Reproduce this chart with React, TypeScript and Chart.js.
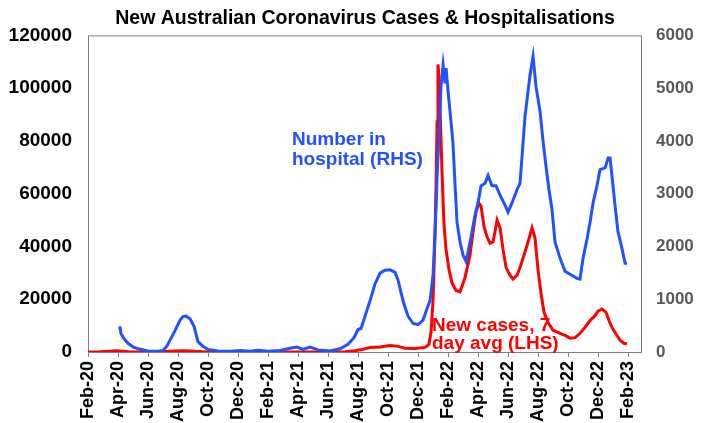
import { useEffect, useRef } from "react";
import { Chart, registerables } from "chart.js";

Chart.register(...registerables);

const titleText = "New Australian Coronavirus Cases & Hospitalisations";

const tickLabels = [
  "Feb-20", "Apr-20", "Jun-20", "Aug-20", "Oct-20", "Dec-20",
  "Feb-21", "Apr-21", "Jun-21", "Aug-21", "Oct-21", "Dec-21",
  "Feb-22", "Apr-22", "Jun-22", "Aug-22", "Oct-22", "Dec-22", "Feb-23",
];

// months since Feb-2020
const hospMonths = [
  2.07, 2.13, 2.2, 2.4, 2.67, 3.0, 3.33, 4.0, 4.67, 5.0, 5.27, 5.47, 5.8, 6.13, 6.33, 6.53, 6.8, 7.07, 7.33, 7.67,
  8.0, 8.67, 9.47, 10.2, 10.8, 11.33, 12.0, 12.8, 13.47, 13.93, 14.33, 14.8, 15.33, 16.13, 16.8, 17.33, 17.73, 18.0,
  18.2, 18.47, 18.8, 19.13, 19.47, 19.8, 20.13, 20.47, 20.67, 21.0, 21.33, 21.67, 22.0, 22.33, 22.6, 22.8, 23.0,
  23.2, 23.27, 23.4, 23.53, 23.67, 23.8, 23.87, 24.0, 24.13, 24.33, 24.47, 24.6, 24.8, 25.0, 25.2, 25.47, 25.8,
  26.0, 26.2, 26.47, 26.67, 26.93, 27.2, 27.47, 27.8, 28.0, 28.27, 28.6, 28.8, 29.13, 29.47, 29.67, 29.87, 30.13,
  30.33, 30.53, 30.73, 30.93, 31.13, 31.47, 31.8, 32.13, 32.6, 32.8, 33.0, 33.27, 33.47, 33.67, 33.93, 34.13,
  34.47, 34.67, 34.8, 34.93, 35.13, 35.33, 35.6, 35.8, 35.93,
];
const hospValues = [
  430, 485, 350, 250, 165, 95, 60, 20, 15, 30, 115, 225, 405, 600, 670, 680, 630, 485, 195, 105,
  50, 20, 15, 30, 15, 35, 15, 30, 70, 95, 50, 95, 40, 20, 60, 145, 270, 425,
  445, 680, 970, 1290, 1495, 1550, 1560, 1510, 1360, 970, 680, 540, 520, 600, 825, 970, 1455,
  2700, 3340, 4080, 5040, 5440, 5090, 5380, 4950, 4570, 3960, 3150, 2460, 2085, 1840, 1715, 2085, 2590,
  2830, 3150, 3200, 3345, 3150, 3150, 2970, 2785, 2650, 2830, 3075, 3200, 4460, 5260, 5600, 5015, 4570,
  4005, 3520, 3075, 2705, 2085, 1775, 1530, 1475, 1395, 1380, 1775, 2145, 2465, 2830, 3150, 3455,
  3490, 3675, 3675, 3335, 2785, 2280, 1960, 1680, 1680,
];

const caseMonths = [
  0, 0.8, 1.47, 1.8, 2.13, 2.67, 4.13, 5.13, 5.8, 6.47, 7.13, 8.0, 9.47, 12.0, 16.13, 17.13, 17.8, 18.27,
  18.8, 19.47, 20.13, 20.6, 21.13, 21.8, 22.47, 22.73, 22.87, 23.0, 23.13, 23.2, 23.27, 23.33, 23.4, 23.47,
  23.6, 23.73, 23.87, 24.07, 24.27, 24.53, 24.8, 25.13, 25.47, 25.67, 25.87, 26.07, 26.2, 26.4, 26.6, 26.8,
  27.0, 27.13, 27.27, 27.47, 27.67, 27.87, 28.13, 28.33, 28.6, 28.8, 29.13, 29.33, 29.6, 29.8, 30.0, 30.2,
  30.4, 30.67, 31.0, 31.47, 31.8, 32.13, 32.47, 32.8, 33.13, 33.47, 33.8, 34.0, 34.27, 34.53, 34.73, 34.93,
  35.2, 35.47, 35.73, 35.93,
];
const caseValues = [
  0, 50, 290, 435, 340, 50, 10, 145, 340, 485, 240, 30, 10, 10, 15, 100, 485, 970,
  1750, 1940, 2425, 2230, 1455, 1360, 1750, 2900, 7760, 19400, 43650, 63050, 87300, 109000, 104000, 92150,
  67900, 48500, 38800, 31000, 26200, 23300, 22800, 28100, 36900, 45600, 53350, 56250, 55300, 47500, 43650, 41200,
  41700, 45600, 49950, 47050, 38800, 32000, 29100, 27650, 29100, 32000, 37850, 41700, 47050, 43150, 31050, 22300,
  15050, 11150, 8250, 7080, 6300, 5240, 5430, 7080, 9300, 11930, 13770, 15520, 16300, 15040, 11930, 9300,
  6800, 4460, 3300, 3100,
];

const BLUE = "#2052FF";
const RED = "#FF0000";
const FONT = "'Liberation Sans', Arial, sans-serif";

const framePlugin = {
  id: "frame",
  beforeDatasetsDraw(chart: any) {
    const { ctx, chartArea } = chart;
    ctx.save();
    ctx.strokeStyle = "#808080";
    ctx.lineWidth = 1;
    ctx.strokeRect(chartArea.left + 0.5, chartArea.top + 0.5, chartArea.right - chartArea.left - 1, chartArea.bottom - chartArea.top);
    ctx.restore();
  },
};

const textPlugin = {
  id: "texts",
  afterDatasetsDraw(chart: any) {
    const { ctx, chartArea } = chart;
    ctx.save();
    ctx.font = `bold 19.5px ${FONT}`;
    ctx.fillStyle = "#000";
    ctx.textAlign = "center";
    ctx.textBaseline = "alphabetic";
    ctx.fillText(titleText, (chartArea.left + chartArea.right) / 2, 16);

    ctx.font = `bold 19px ${FONT}`;
    ctx.textAlign = "left";
    ctx.fillStyle = BLUE;
    ctx.fillText("Number in", 284, 137);
    ctx.fillText("hospital (RHS)", 284, 157);
    ctx.fillStyle = RED;
    ctx.fillText("New cases, 7", 424, 323);
    ctx.fillText("day avg (LHS)", 424, 341);
    ctx.restore();
  },
};

export default function App() {
  const ref = useRef<HTMLCanvasElement>(null);
  useEffect(() => {
    const tickFont = { family: FONT, size: 19, weight: "bold" as const };
    const rightFont = { family: FONT, size: 17, weight: "bold" as const };
    const chart = new Chart(ref.current!, {
      type: "line",
      data: {
        datasets: [
          {
            label: "Number in hospital (RHS)",
            data: hospMonths.map((m, i) => ({ x: m, y: hospValues[i] })),
            yAxisID: "y1",
            borderColor: BLUE,
            borderWidth: 3,
            pointRadius: 0,
            tension: 0,
            order: 0,
          },
          {
            label: "New cases, 7 day avg (LHS)",
            data: caseMonths.map((m, i) => ({ x: m, y: caseValues[i] })),
            yAxisID: "y",
            borderColor: RED,
            borderWidth: 3,
            pointRadius: 0,
            tension: 0,
            order: 1,
          },
        ],
      },
      options: {
        animation: false,
        responsive: false,
        layout: { padding: { top: 22, left: 0, right: 0, bottom: 0 } },
        plugins: {
          legend: { display: false },
          title: { display: false },
          tooltip: { enabled: false },
        },
        scales: {
          x: {
            type: "linear",
            min: 0,
            max: 36.93,
            afterBuildTicks: (s: any) => {
              s.ticks = tickLabels.map((_, i) => ({ value: i * 2 }));
            },
            ticks: {
              autoSkip: false,
              maxRotation: 90,
              minRotation: 90,
              padding: 4,
              color: "#000",
              font: { family: FONT, size: 18, weight: "bold" },
              callback: (_v: any, i: number) => tickLabels[i],
            },
            grid: { display: true, drawOnChartArea: false, drawTicks: true, tickLength: 5, color: "#808080" },
            border: { display: false },
            afterFit: (s: any) => {
              s.height = 71;
            },
          },
          y: {
            position: "left",
            min: 0,
            max: 120000,
            ticks: { stepSize: 20000, padding: 16, color: "#000", font: tickFont, callback: (v: any) => String(v) },
            grid: { display: false, drawTicks: false },
            border: { display: false },
            afterFit: (s: any) => {
              s.width = 80;
            },
          },
          y1: {
            position: "right",
            min: 0,
            max: 6000,
            ticks: { stepSize: 1000, padding: 14, color: "#595959", font: rightFont, callback: (v: any) => String(v) },
            grid: { display: false, drawTicks: false },
            border: { display: false },
            afterFit: (s: any) => {
              s.width = 52;
            },
          },
        },
      },
      plugins: [framePlugin, textPlugin],
    });
    return () => chart.destroy();
  }, []);
  return <canvas ref={ref} width={686} height={415} style={{ display: "block" }} />;
}
